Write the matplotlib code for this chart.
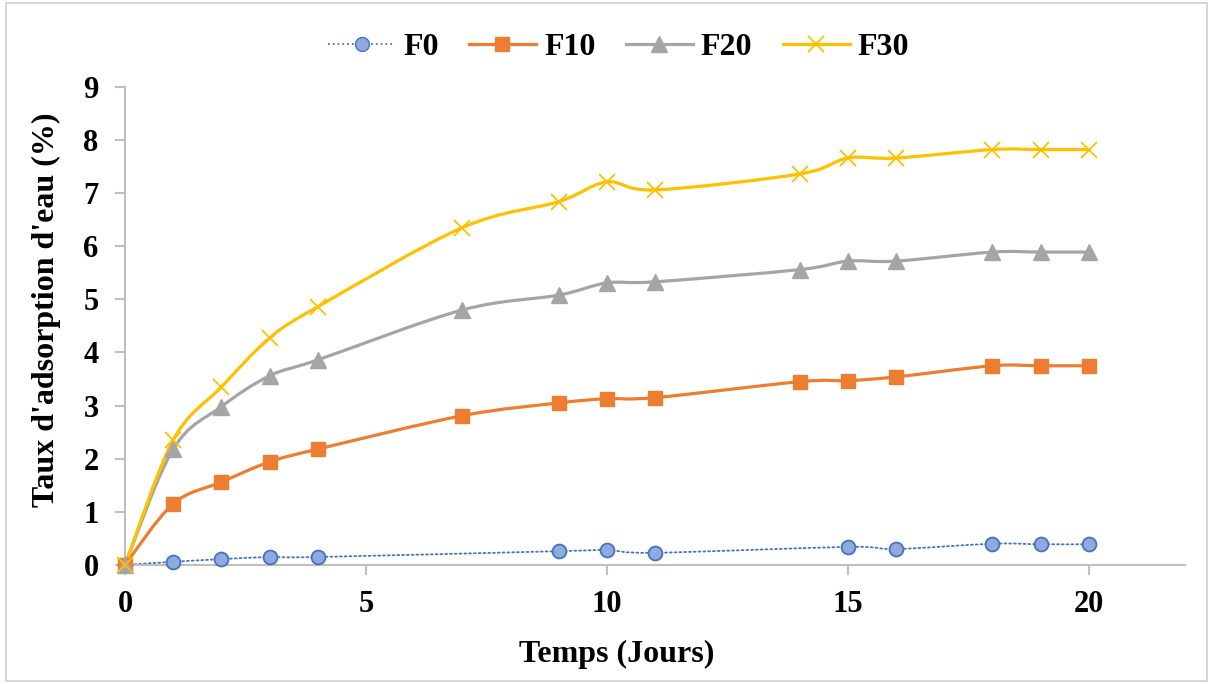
import matplotlib.pyplot as plt
from matplotlib.path import Path
from matplotlib.patches import PathPatch, Rectangle
from matplotlib.lines import Line2D

plt.rcParams['font.family'] = ['Liberation Serif', 'DejaVu Serif']
plt.rcParams['font.weight'] = 'bold'

days = [0, 1, 2, 3, 4, 7, 9, 10, 11, 14, 15, 16, 18, 19, 20]
days_f0 = [0, 1, 2, 3, 4, 9, 10, 11, 15, 16, 18, 19, 20]

f0 = [0.0, 0.06, 0.11, 0.15, 0.15, 0.26, 0.28, 0.23, 0.34, 0.30, 0.40, 0.39, 0.39]
f10 = [0.0, 1.15, 1.56, 1.94, 2.18, 2.81, 3.05, 3.13, 3.15, 3.45, 3.47, 3.54, 3.75, 3.75, 3.75]
f20 = [0.0, 2.18, 2.98, 3.56, 3.86, 4.80, 5.08, 5.31, 5.33, 5.56, 5.72, 5.72, 5.89, 5.89, 5.89]
f30 = [0.0, 2.35, 3.35, 4.27, 4.86, 6.35, 6.84, 7.21, 7.06, 7.36, 7.66, 7.66, 7.82, 7.82, 7.82]

c_f0 = '#4472c4'
c_f0_fill = '#8faadc'
c_f10 = '#ed7d31'
c_f20 = '#a5a5a5'
c_f30 = '#ffc000'


def smooth_path(xs, ys):
    # bezier through the points, excel style smoothing
    n = len(xs)
    verts = [(xs[0], ys[0])]
    codes = [Path.MOVETO]
    for i in range(n - 1):
        p0 = (xs[max(i - 1, 0)], ys[max(i - 1, 0)])
        p1 = (xs[i], ys[i])
        p2 = (xs[i + 1], ys[i + 1])
        p3 = (xs[min(i + 2, n - 1)], ys[min(i + 2, n - 1)])
        c1 = (p1[0] + (p2[0] - p0[0]) / 6, p1[1] + (p2[1] - p0[1]) / 6)
        c2 = (p2[0] - (p3[0] - p1[0]) / 6, p2[1] - (p3[1] - p1[1]) / 6)
        verts += [c1, c2, p2]
        codes += [Path.CURVE4] * 3
    return Path(verts, codes)


fig = plt.figure(figsize=(12.13, 6.84), dpi=100)
ax = fig.add_axes([0.103, 0.174, 0.874, 0.699])

series = [
    (days_f0, f0, c_f0, ':', 1.3),
    (days, f10, c_f10, '-', 2.3),
    (days, f20, c_f20, '-', 2.3),
    (days, f30, c_f30, '-', 2.3),
]
for xs, ys, col, ls, lw in series:
    ax.add_patch(PathPatch(smooth_path(xs, ys), facecolor='none', edgecolor=col,
                           lw=lw, ls=ls, capstyle='round', zorder=2, clip_on=False))

ax.plot(days_f0, f0, ls='none', marker='o', ms=10, mfc=c_f0_fill, mec=c_f0, mew=1.3, zorder=3, clip_on=False)
ax.plot(days, f10, ls='none', marker='s', ms=10, mfc=c_f10, mec=c_f10, zorder=3, clip_on=False)
ax.plot(days, f20, ls='none', marker='^', ms=11, mfc=c_f20, mec=c_f20, zorder=3, clip_on=False)
ax.plot(days, f30, ls='none', marker='x', ms=11, mec=c_f30, mew=1.3, zorder=3, clip_on=False)

ax.set_xlim(0, 22)
ax.set_ylim(0, 9)
ax.set_xticks([0, 5, 10, 15, 20])
ax.set_yticks(range(0, 10))
for s in ['top', 'right']:
    ax.spines[s].set_visible(False)
for s in ['left', 'bottom']:
    ax.spines[s].set_color('#bfbfbf')
    ax.spines[s].set_linewidth(1.5)
ax.tick_params(colors='#bfbfbf', length=7, width=1.5, labelcolor='black', labelsize=22)
ax.tick_params(axis='x', pad=11)
ax.tick_params(axis='y', pad=12)

ax.set_xlabel('Temps (Jours)', fontsize=23, fontweight='bold')
ax.set_ylabel("Taux d'adsorption d'eau (%)", fontsize=23, fontweight='bold')
ax.xaxis.set_label_coords(0.464, -0.157)
ax.yaxis.set_label_coords(-0.06, 0.533)

handles = [
    Line2D([], [], color=c_f0, ls=':', lw=1.3, marker='o', ms=10, mfc=c_f0_fill, mec=c_f0),
    Line2D([], [], color=c_f10, lw=2.3, marker='s', ms=10, mfc=c_f10, mec=c_f10),
    Line2D([], [], color=c_f20, lw=2.3, marker='^', ms=11, mfc=c_f20, mec=c_f20),
    Line2D([], [], color=c_f30, lw=2.3, marker='x', ms=11, mec=c_f30, mew=1.3),
]
fig.legend(handles, ['F0', 'F10', 'F20', 'F30'], loc='center', bbox_to_anchor=(0.51, 0.931),
           ncol=4, frameon=False, fontsize=23, handlelength=2.1, columnspacing=0.95,
           handletextpad=0.25)

fig.add_artist(Rectangle((0.005, 0.005), 0.99, 0.99, transform=fig.transFigure,
                         fill=False, edgecolor='#d0d0d0', lw=1.2))

fig.savefig('out.png', dpi=100)
